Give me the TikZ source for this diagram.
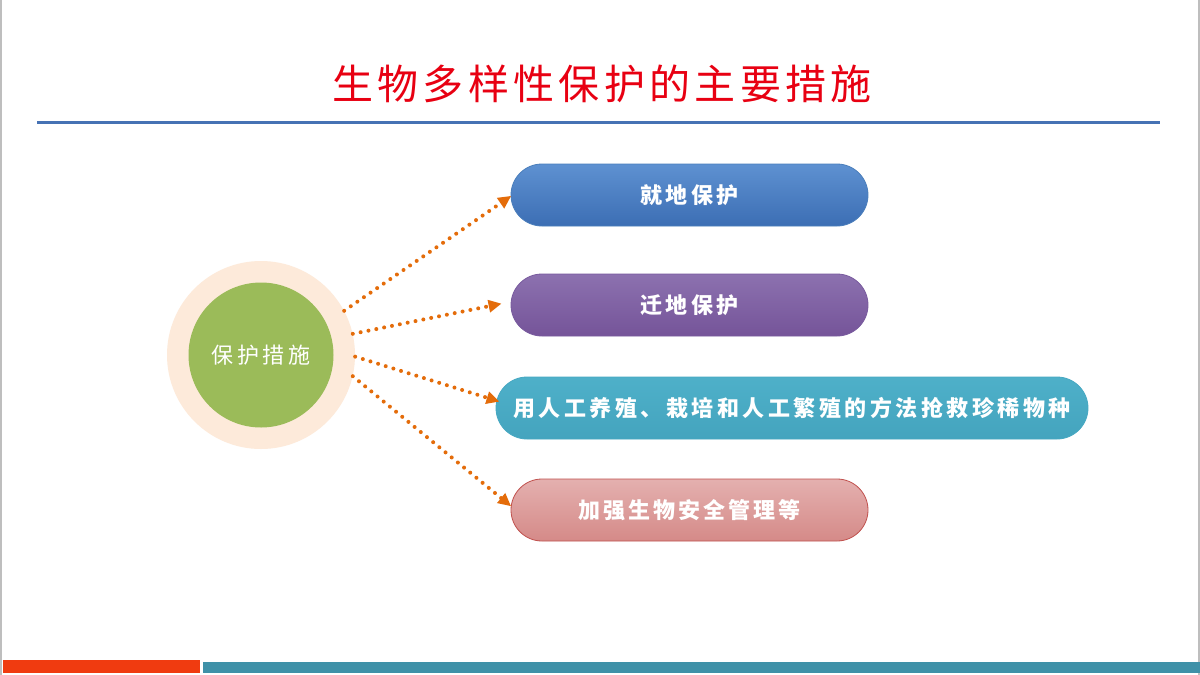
\documentclass[tikz,border=0pt]{standalone}
\usepackage{fontspec}
\newfontfamily\cjk{Noto Sans CJK SC}
\usetikzlibrary{arrows.meta,calc}
\definecolor{titlered}{RGB}{232,0,18}
\definecolor{rulblue}{RGB}{70,114,180}
\definecolor{peach}{RGB}{253,234,218}
\definecolor{leafgreen}{RGB}{155,187,89}
\definecolor{arrorange}{RGB}{228,108,10}
\definecolor{barred}{RGB}{240,59,16}
\definecolor{barteal}{RGB}{63,145,168}
\definecolor{framegray}{RGB}{190,190,190}
\tikzset{
  pill/.style={rounded corners=31pt, minimum height=62pt, inner sep=0pt,
    text=white, font={\cjk\bfseries\fontsize{22}{26}\selectfont\addfontfeatures{LetterSpace=14}}, line width=0.8pt},
  dotarrow/.style={arrorange, line width=4pt, dash pattern=on 0pt off 8pt, line cap=round,
    -{Triangle[length=13pt,width=12pt,line join=miter]}, shorten >=-2pt},
}
\begin{document}
\begin{tikzpicture}[x=1pt,y=-1pt]
\useasboundingbox (0,0) rectangle (1200,675);
\fill[white] (0,0) rectangle (1200,675);
% frame lines
\draw[framegray, line width=1.2pt] (1,0) -- (1,675);
\draw[framegray, line width=1.2pt] (1199,0) -- (1199,675);
% title
\node[text=titlered, font={\cjk\fontsize{41}{46}\selectfont\addfontfeatures{LetterSpace=10.5}}] (title) at (602,84) {生物多样性保护的主要措施};
\draw[rulblue, line width=3pt] (37,122) -- (1160,122);
% bottom bars
\fill[barred] (3,660) rectangle (200,673);
\fill[barteal] (203,662) rectangle (1200,673);
% circle
\node[circle, fill=peach, minimum size=188pt, inner sep=0pt] (c) at (261,355) {};
\node[circle, fill=leafgreen, minimum size=145pt, inner sep=0pt, text=white,
  font={\cjk\fontsize{22}{24}\selectfont\addfontfeatures{LetterSpace=16}}] (ci) at (261,355) {保护措施};
% pills
\node[pill, minimum width=357pt, top color={rgb,255:red,94;green,145;blue,209}, bottom color={rgb,255:red,60;green,110;blue,180},
  draw={rgb,255:red,74;green,126;blue,187}] (p1) at (689.5,195) {就地保护};
\node[pill, minimum width=357pt, top color={rgb,255:red,140;green,113;blue,175}, bottom color={rgb,255:red,117;green,84;blue,153},
  draw={rgb,255:red,120;green,90;blue,158}] (p2) at (689.5,305) {迁地保护};
\node[pill, minimum width=592pt, top color={rgb,255:red,78;green,176;blue,201}, bottom color={rgb,255:red,68;green,164;blue,190},
  draw={rgb,255:red,70;green,168;blue,194}, font={\cjk\bfseries\fontsize{22}{26}\selectfont\addfontfeatures{LetterSpace=16}}] (p3) at (792,408) {用人工养殖、栽培和人工繁殖的方法抢救珍稀物种};
\node[pill, minimum width=357pt, top color={rgb,255:red,228;green,176;blue,175}, bottom color={rgb,255:red,213;green,138;blue,136},
  draw={rgb,255:red,192;green,80;blue,77}] (p4) at (689.5,510) {加强生物安全管理等};
% arrows
\draw[dotarrow] (c.28) -- ($(p1.west)+(-1,2)$);
\draw[dotarrow] (c.13) -- ($(p2.west)+(-11,-1)$);
\draw[dotarrow] (c.-1) -- ($(p3.west)+(2,-7)$);
\draw[dotarrow] (c.-13) -- ($(p4.west)+(-1,-5)$);
\end{tikzpicture}
\end{document}
